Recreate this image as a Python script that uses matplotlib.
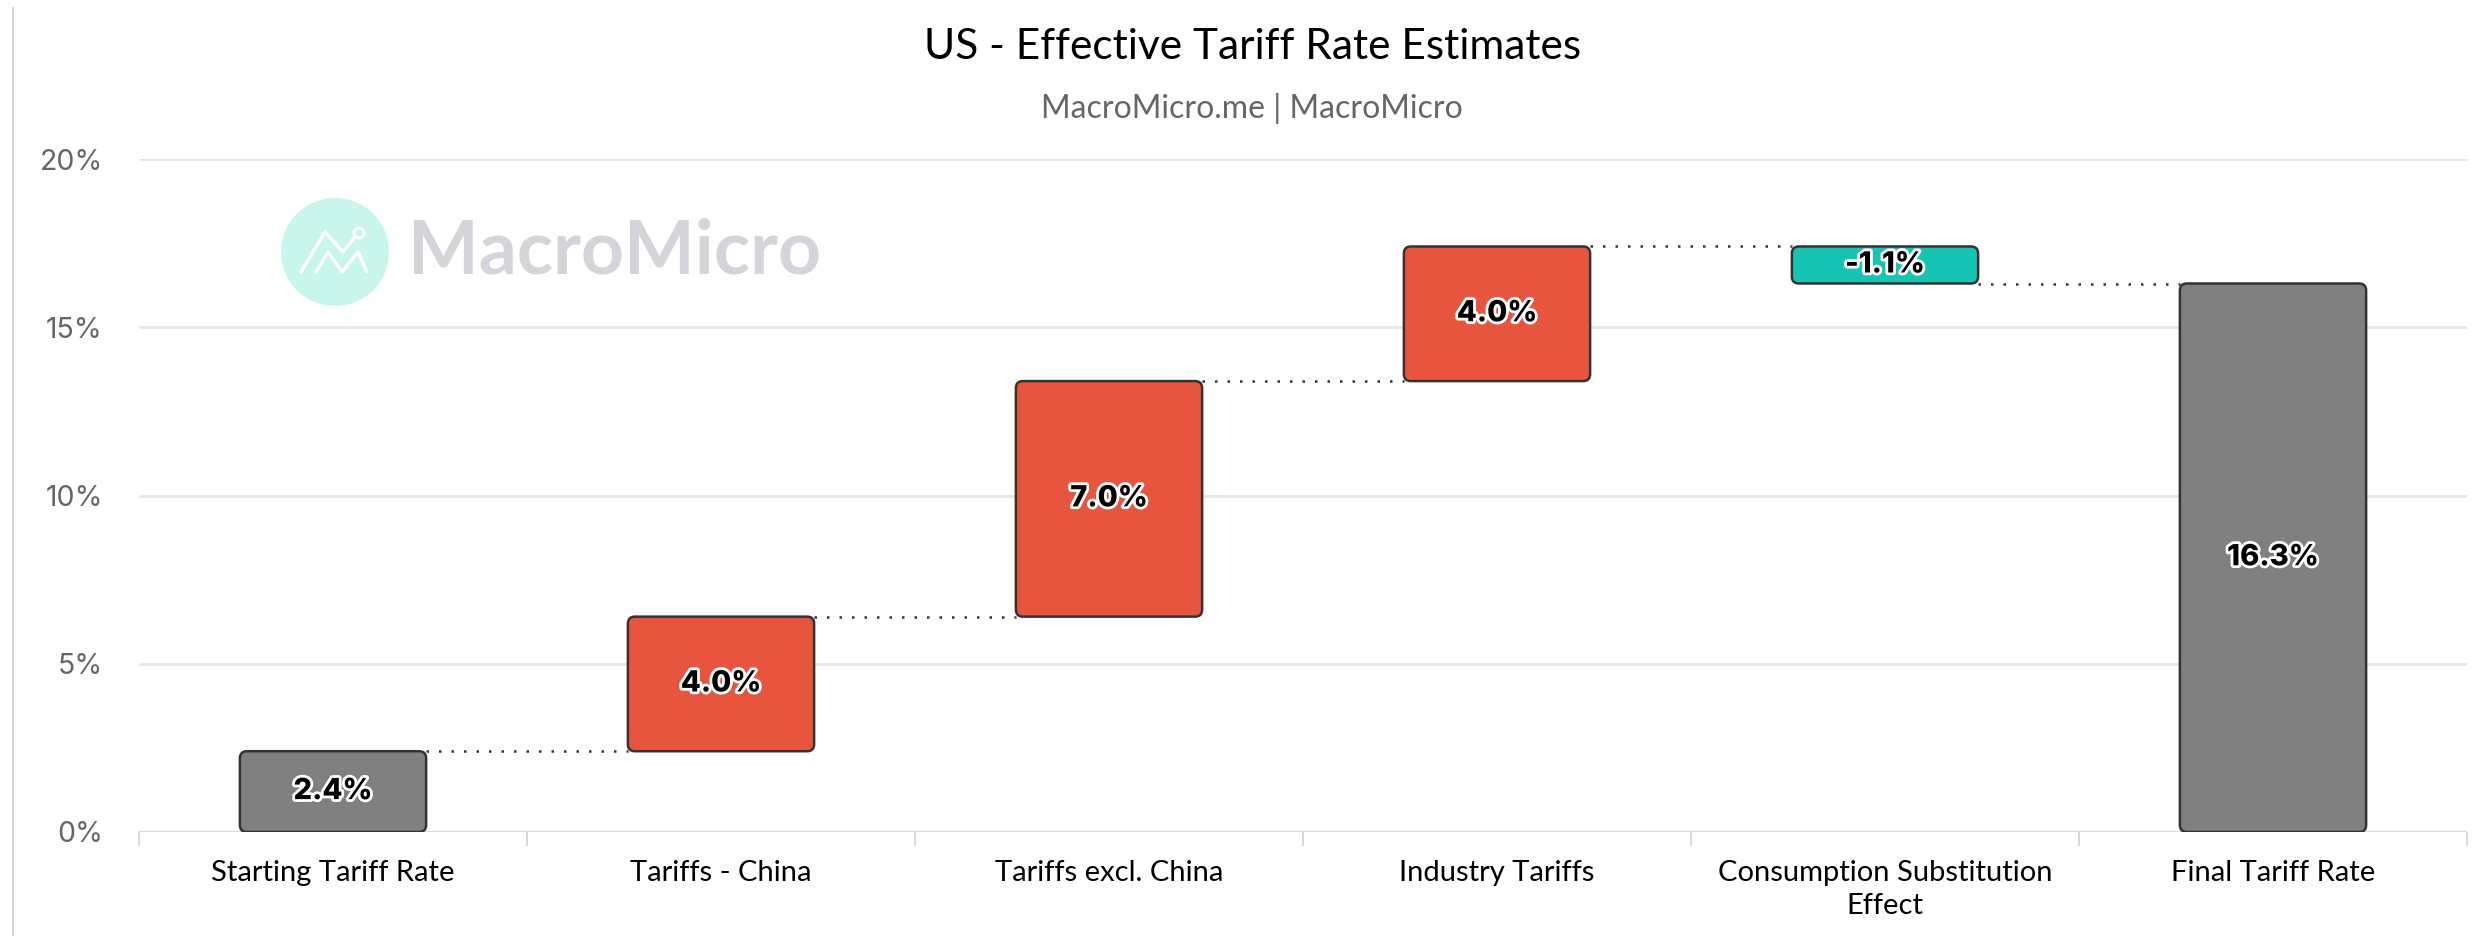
import matplotlib
matplotlib.use("Agg")
import matplotlib.pyplot as plt
from matplotlib.patches import FancyBboxPatch, Ellipse
from matplotlib.lines import Line2D
import matplotlib.patheffects as pe
import numpy as np

# ---- data ----
categories = ["Starting Tariff Rate", "Tariffs - China", "Tariffs excl. China",
              "Industry Tariffs", "Consumption Substitution\nEffect", "Final Tariff Rate"]
changes = [2.4, 4.0, 7.0, 4.0, -1.1, 16.3]
kinds = ["total", "delta", "delta", "delta", "delta", "total"]
yticks = [0, 5, 10, 15, 20]
ytick_labels = ["0%", "5%", "10%", "15%", "20%"]
title = "US - Effective Tariff Rate Estimates"
subtitle = "MacroMicro.me | MacroMicro"

# ---- styles ----
C_TOTAL = "#808080"
C_UP = "#E8553E"
C_DOWN = "#17C3B2"
EDGE = "#333333"

W, H = 2475, 936
fig = plt.figure(figsize=(W / 100, H / 100), dpi=100)
L, R, T, B = 139, 2467, 159, 832
ax = fig.add_axes([L / W, 1 - B / H, (R - L) / W, (B - T) / H])
ax.set_xlim(-0.5, len(categories) - 0.5)
ax.set_ylim(0, 20)

# compute bottoms / tops
bottoms, heights = [], []
level = 0.0
for v, k in zip(changes, kinds):
    if k == "total":
        bottoms.append(0.0)
        heights.append(v)
        level = v
    else:
        if v >= 0:
            bottoms.append(level)
            heights.append(v)
        else:
            bottoms.append(level + v)
            heights.append(-v)
        level += v
colors = [C_TOTAL if k == "total" else (C_UP if v >= 0 else C_DOWN) for v, k in zip(changes, kinds)]

# gridlines
for y in yticks:
    ax.axhline(y, color="#e6e6e6", lw=2, zorder=0)
ax.axhline(0, color="#d9d9d9", lw=2.2, zorder=1)

bw = 0.48
bars = ax.bar(range(len(categories)), heights, bottom=bottoms, width=bw, color=colors)

# replace with rounded patches
fig.canvas.draw()
px_x = (ax.transData.transform((1, 0))[0] - ax.transData.transform((0, 0))[0])
px_y = (ax.transData.transform((0, 1))[1] - ax.transData.transform((0, 0))[1])
aspect = px_x / px_y
rad_px = 7
for rect in bars.patches:
    x0, y0 = rect.get_x(), rect.get_y()
    w, h = rect.get_width(), rect.get_height()
    fc = rect.get_facecolor()
    rect.set_visible(False)
    p = FancyBboxPatch((x0, y0), w, h,
                       boxstyle=f"round,pad=0,rounding_size={rad_px / px_x}",
                       mutation_aspect=aspect, fc=fc, ec=EDGE, lw=1.8, zorder=3)
    ax.add_patch(p)

# connectors
level = 0.0
tops = []
for i, (v, k) in enumerate(zip(changes, kinds)):
    level = v if k == "total" else level + v
    tops.append(level)
for i in range(len(categories) - 1):
    ax.plot([i + bw / 2, i + 1 - bw / 2], [tops[i], tops[i]], color="#333333",
            lw=1.8, linestyle=(0, (1, 4)), zorder=2)

# value labels
for i, (v, b, h) in enumerate(zip(changes, bottoms, heights)):
    ax.text(i, b + h / 2, f"{v:.1f}%", ha="center", va="center", fontsize=21,
            fontweight="heavy", family="Inter", color="black", zorder=5,
            path_effects=[pe.withStroke(linewidth=4, foreground="white")])

# axes styling
for s in ax.spines.values():
    s.set_visible(False)
ax.set_yticks(yticks)
ax.set_yticklabels(ytick_labels, family="Inter", fontsize=20.5, color="#666666")
ax.tick_params(axis="y", length=0, pad=26)
ax.set_xticks(range(len(categories)))
ax.set_xticklabels(categories, family="Lato", fontsize=21, color="black", va="top",
                   linespacing=1.35)
ax.tick_params(axis="x", which="major", length=0, pad=20)
ax.set_xticks(np.arange(-0.5, len(categories), 1.0), minor=True)
ax.tick_params(axis="x", which="minor", length=10, width=1.5, color="#d9d9d9")

# titles
fig.text(0.506, 1 - 47 / H, title, ha="center", va="center", family="Lato", fontsize=30.5, color="black")
fig.text(0.506, 1 - 109 / H, subtitle, ha="center", va="center", family="Lato", fontsize=23, color="#666666")

# left border line
fig.add_artist(Line2D([13 / W, 13 / W], [0, 1 - 8 / H], color="#cccccc", lw=1.2, zorder=2))

# watermark
cx, cy, r = 335, 252, 54
fig.add_artist(Ellipse((cx / W, 1 - cy / H), 2 * r / W, 2 * r / H, transform=fig.transFigure,
                       fc="#C8F5EC", ec="none", zorder=1))
up_x = [301, 325, 343, 354]
up_y = [272, 232, 252, 238]
lo_x = [316, 328, 342, 358, 367]
lo_y = [272, 252, 272, 252, 272]
fig.add_artist(Line2D([x / W for x in up_x], [1 - y / H for y in up_y], color="white", lw=2.5,
                      solid_capstyle="round", solid_joinstyle="round", zorder=2))
fig.add_artist(Line2D([x / W for x in lo_x], [1 - y / H for y in lo_y], color="white", lw=2.5,
                      solid_capstyle="round", solid_joinstyle="round", zorder=2))
fig.add_artist(Ellipse((359 / W, 1 - 233 / H), 10 / W, 10 / H, transform=fig.transFigure,
                       fc="none", ec="white", lw=2.2, zorder=2))
fig.text(408 / W, 1 - 252 / H, "MacroMicro", ha="left", va="center", family="Lato",
         fontweight="bold", fontsize=54, color="#D3D5D8", zorder=1)

fig.savefig("out.png", dpi=100)
